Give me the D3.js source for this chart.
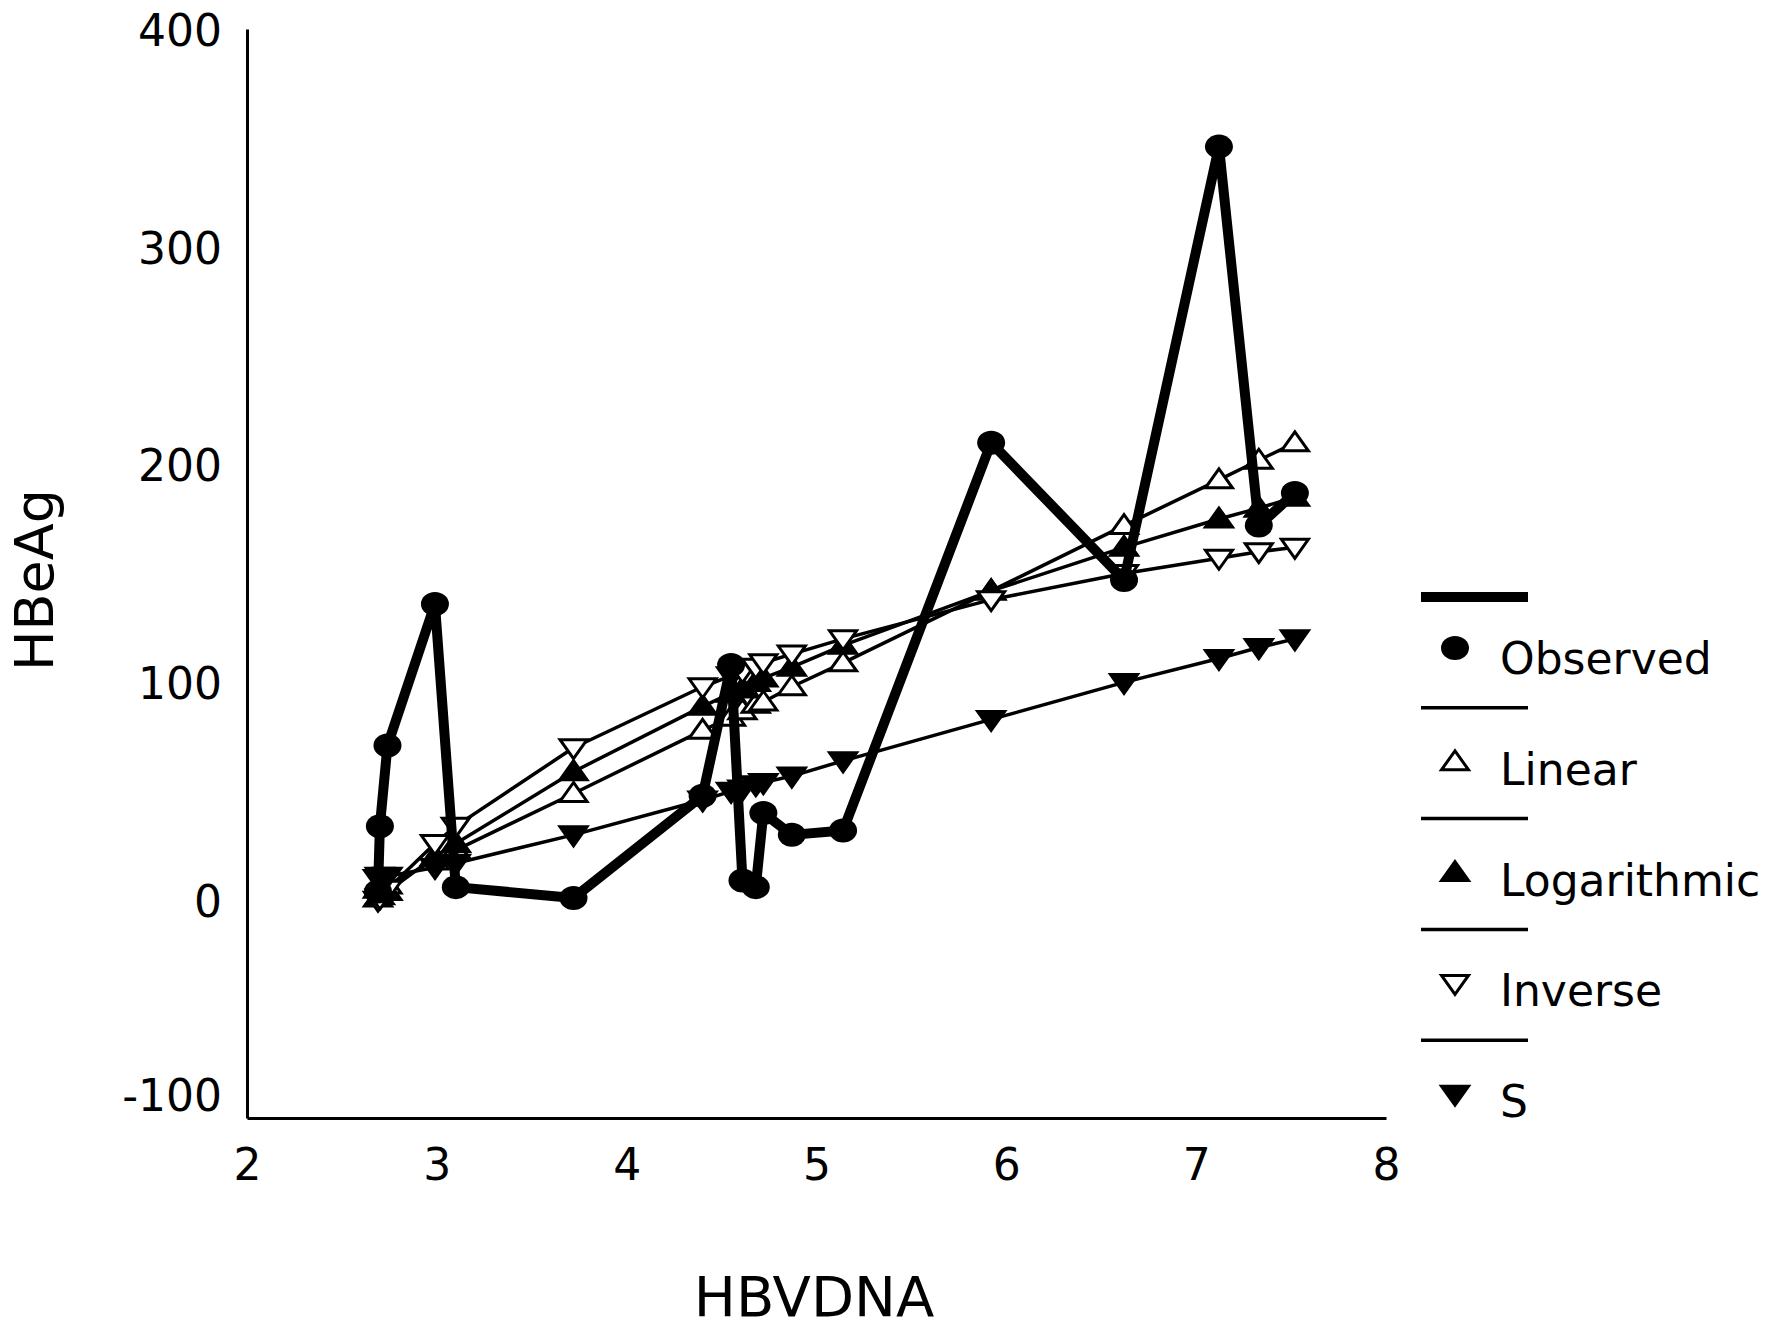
<!DOCTYPE html>
<html>
<head>
<meta charset="utf-8">
<script src="https://cdn.jsdelivr.net/npm/d3@7"></script>
<style>
    body { margin: 0; background: #fff; }
    text { font-family: "DejaVu Sans", sans-serif; fill: #000; }
</style>
</head>
<body>
<svg id="chart-svg" width="1773" height="1331"></svg>
<script>
// HBVDNA values (x) and the observed / fitted HBeAg values
const hbvdna      = [2.69, 2.70, 2.74, 2.99, 3.10, 3.72, 4.40, 4.55, 4.61, 4.68, 4.72, 4.87, 5.14, 5.92, 6.62, 7.12, 7.33, 7.52];
const observed    = [4, 34, 71, 136, 6, 1, 48, 108, 9, 6, 40, 30, 32, 210, 147, 346, 172, 187];
const linear      = [5, 6, 7, 18, 23, 49, 78, 84, 87, 90, 91, 98, 109, 142, 172, 193, 202, 210];
const logarithmic = [1, 2, 4, 20, 26, 59, 89, 95, 97, 100, 102, 107, 117, 142, 162, 175, 180, 185];
const inverse     = [0, 1, 5, 26, 34, 70, 98, 103, 105, 107, 109, 113, 120, 138, 150, 157, 160, 162];
const sCurve      = [10, 11, 11, 15, 17, 30, 46, 50, 51, 53, 54, 57, 64, 83, 100, 111, 116, 120];

const seriesNames = ["Observed", "Linear", "Logarithmic", "Inverse", "S"];
const xTicks = [2, 3, 4, 5, 6, 7, 8];
const yTicks = [-100, 0, 100, 200, 300, 400];

const svg = d3.select("#chart-svg");

const xScale = d3.scaleLinear().domain([2, 8]).range([247, 1386]);
const yScale = d3.scaleLinear().domain([-100, 400]).range([1118, 29]);

// triangle templates, centred on the point
const upTri = "M0,-11L13.5,8L-13.5,8Z";
const downTri = "M0,11L13.5,-8L-13.5,-8Z";

const series = [
    {name: seriesNames[1], values: linear,      width: 3.5, shape: upTri,   fill: "#fff"},
    {name: seriesNames[2], values: logarithmic, width: 3.5, shape: upTri,   fill: "#000"},
    {name: seriesNames[3], values: inverse,     width: 3.5, shape: downTri, fill: "#fff"},
    {name: seriesNames[4], values: sCurve,      width: 3.5, shape: downTri, fill: "#000"}
];

// ---- axes (plain hyphen for negatives, no decimals)
const fmt = d => String(d);

const xAxis = svg.append("g")
    .attr("transform", `translate(0,${yScale(-100)})`)
    .call(d3.axisBottom(xScale).tickValues(xTicks).tickFormat(fmt)
        .tickSize(0).tickSizeOuter(0).tickPadding(31));

const yAxis = svg.append("g")
    .attr("transform", `translate(${xScale(2)},0)`)
    .call(d3.axisLeft(yScale).tickValues(yTicks).tickFormat(fmt)
        .tickSize(0).tickSizeOuter(0).tickPadding(25));

[xAxis, yAxis].forEach(ax => {
    ax.select(".domain").attr("stroke", "#000").attr("stroke-width", 3);
    ax.selectAll("text")
        .attr("font-family", "DejaVu Sans")
        .attr("font-size", 44)
        .attr("fill", "#000");
});

yAxis.selectAll("text").attr("dy", "0.37em");
// the bottom label sits a little above its grid value
yAxis.selectAll(".tick")
    .filter(d => d === -100)
    .select("text")
    .attr("dy", "-0.16em");

svg.append("text")
    .attr("text-anchor", "middle")
    .attr("x", 814)
    .attr("y", 1316)
    .attr("font-size", 56)
    .text("HBVDNA");

svg.append("text")
    .attr("text-anchor", "middle")
    .attr("transform", "translate(53,580) rotate(-90)")
    .attr("font-size", 54)
    .text("HBeAg");

// ---- lines
const line = vals => d3.line()
    .x((d, i) => xScale(hbvdna[i]))
    .y(d => yScale(d))(vals);

const plot = svg.append("g");

series.forEach(s => {
    plot.append("path")
        .attr("d", line(s.values))
        .attr("fill", "none")
        .attr("stroke", "#000")
        .attr("stroke-width", s.width)
        .attr("stroke-linejoin", "round");
});

series.forEach(s => {
    plot.selectAll(null)
        .data(s.values)
        .join("path")
        .attr("transform", (d, i) => `translate(${xScale(hbvdna[i])},${yScale(d)})`)
        .attr("d", s.shape)
        .attr("fill", s.fill)
        .attr("stroke", "#000")
        .attr("stroke-width", 3);
});

plot.append("path")
    .attr("d", line(observed))
    .attr("fill", "none")
    .attr("stroke", "#000")
    .attr("stroke-width", 10)
    .attr("stroke-linejoin", "round");

plot.selectAll("ellipse")
    .data(observed)
    .join("ellipse")
    .attr("cx", (d, i) => xScale(hbvdna[i]))
    .attr("cy", d => yScale(d))
    .attr("rx", 14)
    .attr("ry", 12)
    .attr("fill", "#000");

// ---- legend
const legend = svg.append("g").attr("transform", "translate(1421,597)");
const legendItems = [{name: seriesNames[0], width: 10, shape: null, fill: "#000"}].concat(series);

legendItems.forEach((s, i) => {
    const g = legend.append("g").attr("transform", `translate(0,${i * 110.8})`);
    g.append("line")
        .attr("x1", 0).attr("x2", 107)
        .attr("y1", 0).attr("y2", 0)
        .attr("stroke", "#000")
        .attr("stroke-width", s.width);
    if (s.shape)
    {
        g.append("path")
            .attr("transform", "translate(34,54)")
            .attr("d", s.shape)
            .attr("fill", s.fill)
            .attr("stroke", "#000")
            .attr("stroke-width", 3);
    }
    else
    {
        g.append("ellipse")
            .attr("cx", 34).attr("cy", 51)
            .attr("rx", 14).attr("ry", 12)
            .attr("fill", "#000");
    }
    g.append("text")
        .attr("x", 79)
        .attr("y", 77)
        .attr("font-size", 44)
        .text(s.name);
});
</script>
</body>
</html>
